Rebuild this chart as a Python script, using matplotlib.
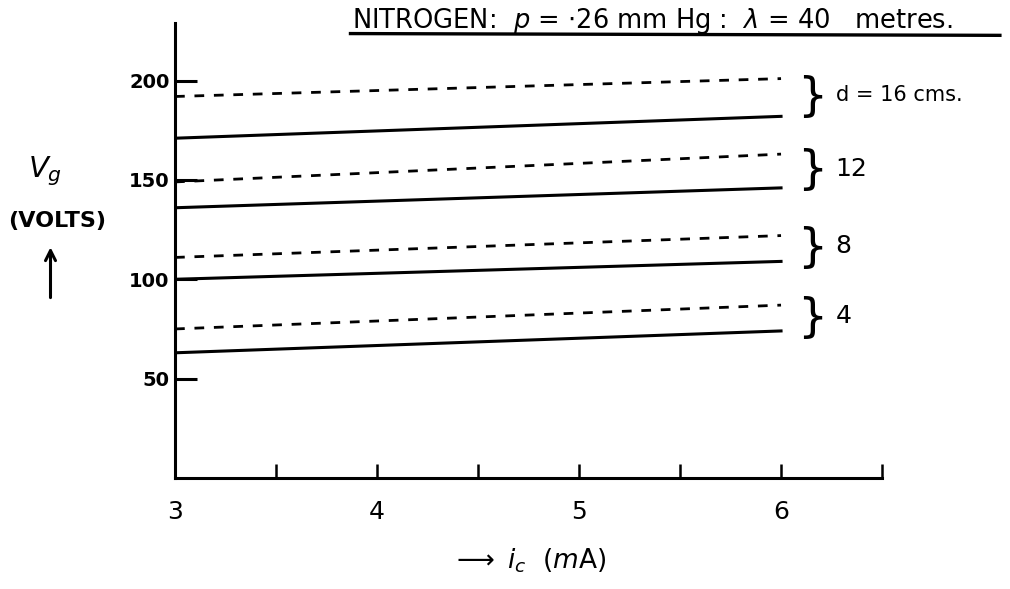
import matplotlib as mpl
mpl.use('Agg')
import matplotlib.pyplot as plt
from matplotlib.lines import Line2D

mpl.rcParams['font.family'] = ['DejaVu Sans']

# data
ic = [3.0, 6.0]
sep_cm = ['d = 16 cms.', '12', '8', '4']
vg_dashed = [[192, 201], [149, 163], [111, 122], [75, 87]]
vg_solid = [[171, 182], [136, 146], [100, 109], [63, 74]]

yticks = [50, 100, 150, 200]
xticks = [3, 4, 5, 6]
xminor = [3.5, 4.5, 5.5, 6.5]

fig = plt.figure(figsize=(10.1, 5.89), dpi=100)
ax = fig.add_axes([0.1733, 0.1885, 0.70, 0.7725])

for i in range(len(sep_cm)):
    ax.plot(ic, vg_dashed[i], c='k', lw=2.0, ls=(0, (3.5, 3.5)))
    ax.plot(ic, vg_solid[i], c='k', lw=2.2)
    ymid = 0.5 * (vg_dashed[i][1] + vg_solid[i][1])
    ax.text(6.08, ymid, '}', fontsize=34, va='center', ha='left')
    ax.text(6.27, ymid + 1, sep_cm[i], fontsize=18 if i else 15,
            va='center', ha='left')

ax.set_xlim(3, 6.5)
ax.set_ylim(0, 229)
for s in ['top', 'right']:
    ax.spines[s].set_visible(False)
for s in ['left', 'bottom']:
    ax.spines[s].set_linewidth(2.2)

ax.set_yticks(yticks)
ax.set_yticklabels([str(v) for v in yticks], fontsize=14, fontweight='bold')
ax.set_xticks(xticks)
ax.set_xticklabels([str(v) for v in xticks], fontsize=18)
ax.set_xticks(xminor, minor=True)
ax.tick_params(axis='y', direction='in', length=16, width=2.2, pad=4)
ax.tick_params(axis='x', which='both', direction='in', length=10, width=1.8, pad=16)

ax.set_xlabel(r'$\longrightarrow\ i_c$  ($m$A)', fontsize=19, labelpad=16)

fig.text(0.028, 0.70, r'$V_g$', fontsize=21)
fig.text(0.008, 0.615, '(VOLTS)', fontsize=16, fontweight='bold')
ax.annotate('', xy=(0.050, 0.585), xycoords='figure fraction',
            xytext=(0.050, 0.49), textcoords='figure fraction',
            arrowprops=dict(arrowstyle='->', lw=2.2, color='k', mutation_scale=18))

fig.text(0.349, 0.952, r'NITROGEN:  $p$ = $\cdot$26 mm Hg :  $\lambda$ = 40   metres.',
         fontsize=18.5, va='baseline')
fig.add_artist(Line2D([0.347, 0.99], [0.943, 0.940], transform=fig.transFigure,
                      c='k', lw=2.4))

plt.savefig('out.png', dpi=100)
plt.close()
